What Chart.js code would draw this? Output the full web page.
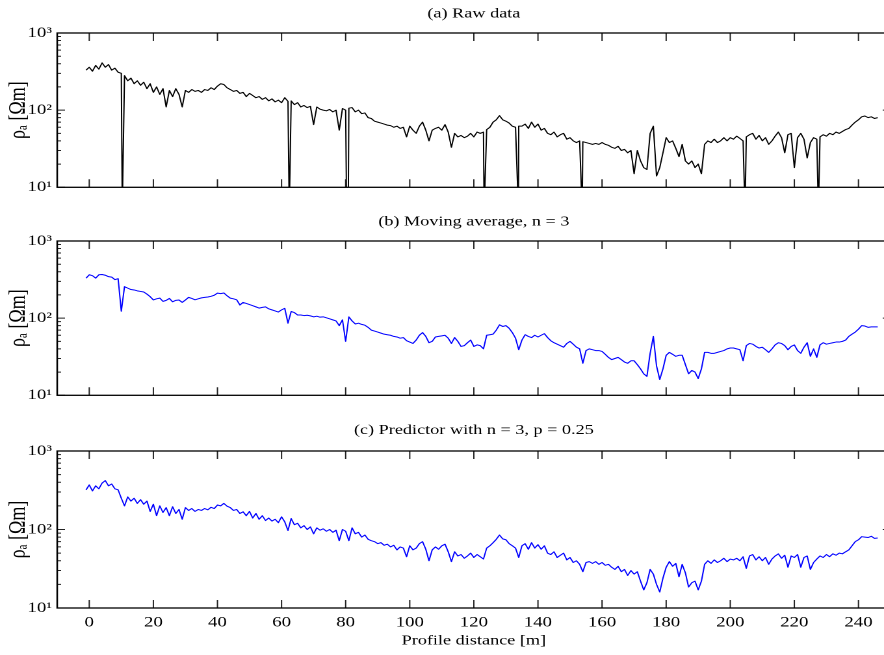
<!DOCTYPE html>
<html>
<head>
<meta charset="utf-8">
<script src="https://cdn.jsdelivr.net/npm/chart.js@4.4.1/dist/chart.umd.min.js"></script>
<style>
  html, body { margin: 0; padding: 0; background: #fff; overflow: hidden; }
  #fig { position: relative; width: 884px; height: 655px; overflow: hidden; background: #fff; }
  #fig canvas { position: absolute; left: 0; transform-origin: 0 0; transform: scaleX(1.3); }
</style>
</head>
<body>
<div id="fig">
  <canvas id="c1" style="top:0px"></canvas>
  <canvas id="c2" style="top:208px"></canvas>
  <canvas id="c3" style="top:418px"></canvas>
</div>
<script>
// ---------------- DATA ----------------
const distanceStart = -1;   // first sample [m], one sample per metre

// (a) raw apparent resistivity [Ohm m] on the 1 m grid
const rawData = [
  330, 360, 320, 380, 340, 410, 360, 390, 330, 350,
  310, 300, 280, 240, 260, 220, 240, 210, 230, 190,
  220, 170, 200, 160, 190, 110, 180, 150, 190, 160,
  110, 180, 170, 185, 175, 180, 170, 185, 180, 195,
  185, 205, 220, 215, 195, 185, 175, 180, 165, 170,
  150, 165, 155, 145, 150, 138, 145, 132, 140, 128,
  135, 125, 145, 130, 132, 118, 125, 110, 115, 108,
  112,  65, 110, 103, 100,  98, 102,  95, 100,  55,
  105, 100, 106, 108,  95, 100,  90,  92,  80,  78,
   72,  70,  68,  66,  64,  63,  60,  62,  58,  60,
   45,  62,  55,  50,  62,  70,  55,  40,  55,  58,
   60,  55,  65,  52,  33,  50,  45,  47,  44,  46,
   50,  45,  52,  50,  52,  56,  60,  70,  75,  85,
   75,  72,  68,  62,  60,  62,  62,  66,  58,  70,
   60,  66,  55,  58,  50,  48,  52,  45,  48,  50,
   42,  44,  40,  38,  40,  39,  38,  37,  36,  37,
   36,  38,  36,  35,  33,  32,  34,  30,  31,  28,
   30,  15,  30,  22,  18,  17,  50,  62,  14,  18,
   28,  44,  38,  40,  32,  25,  36,  22,  20,  22,
   18,  20,  15,  36,  40,  38,  42,  38,  40,  44,
   40,  44,  42,  46,  43,  40,  45,  48,  50,  42,
   47,  40,  44,  36,  40,  46,  52,  44,  28,  48,
   50,  18,  44,  50,  42,  24,  38,  44,  42,  45,
   48,  46,  50,  48,  52,  50,  53,  56,  58,  64,
   70,  75,  82,  84,  80,  82,  78,  80
];
// (a) drop-out samples of the raw data (they fall below the 10 Ohm m axis limit)
const dropoutDistance = [10.3, 62.4, 80.3, 80.8, 123.2, 133.9, 153.8, 204.6, 227.5];
const dropoutValue    = [5, 5, 5, 5, 5, 5, 5, 5, 5];

// (b) moving average, n = 3
const movingAverage = [
  330, 365, 355, 330, 365, 368, 360, 345, 340, 316,
  325, 123, 256, 245, 235, 232, 226, 222, 218, 205,
  190, 172, 178, 182, 165, 170, 180, 163, 170, 172,
  160, 172, 186, 180, 173, 178, 183, 186, 188, 192,
  198, 211, 208, 212, 195, 182, 178, 173, 148, 160,
  155, 150, 145, 140, 135, 138, 140, 132, 128, 124,
  120, 128, 134,  86, 122, 118, 110, 110, 108, 109,
  107, 104, 106, 103, 104, 101,  98,  95,  92,  80,
   95,  50, 104,  92,  84,  86,  83,  81,  76,  70,
   68,  66,  64,  62,  61,  60,  58,  57,  55,  56,
   51,  49,  47,  52,  60,  65,  58,  48,  50,  57,
   58,  59,  60,  55,  47,  56,  50,  43,  44,  48,
   52,  43,  45,  44,  40,  60,  61,  62,  70,  82,
   78,  80,  74,  65,  55,  39,  52,  61,  58,  56,
   60,  57,  60,  63,  56,  51,  48,  46,  44,  42,
   47,  50,  46,  42,  40,  26,  38,  40,  39,  38,
   38,  37,  34,  31,  29,  30,  31,  29,  27,  26,
   28,  28,  25,  22,  19, 17.6, 35, 58,  24,  16,
   22,  33,  36,  34,  32,  33,  33,  25,  19,  21,
   20, 16.5, 22,  36,  36,  35,  35,  36,  37,  38,
   40,  41,  41,  40,  39,  28,  44,  47,  46,  43,
   41,  42,  39,  36,  40,  45,  48,  47,  44,  39,
   43,  45,  38,  35,  42,  48,  32,  40,  31,  45,
   48,  46,  47,  48,  49,  49,  50,  52,  58,  62,
   66,  72,  80,  79,  76,  77,  77,  77
];

// (c) predictor with n = 3, p = 0.25
const predictor = [
  320, 370, 310, 360, 330, 390, 420, 360, 380, 330,
  320, 250, 200, 260, 230, 250, 215, 240, 210, 230,
  170, 210, 150, 200, 165, 190, 150, 195, 160, 180,
  135, 190, 175, 185, 170, 180, 175, 185, 178, 192,
  185, 205, 200, 215, 198, 190, 175, 180, 160, 168,
  150, 170, 140, 160, 135, 150, 130, 140, 128, 135,
  122, 145, 125,  97, 138, 115, 120, 105, 112, 100,
  108,  88, 105,  98, 102,  95, 100,  92,  98,  72,
  100,  95,  72, 105,  88,  92,  80,  85,  75,  72,
   70,  66,  68,  63,  65,  60,  63,  55,  60,  58,
   45,  62,  55,  58,  66,  70,  56,  40,  55,  60,
   56,  62,  65,  52,  39,  52,  46,  48,  43,  46,
   50,  44,  48,  45,  42,  58,  62,  68,  75,  85,
   76,  74,  66,  62,  58,  44,  62,  66,  56,  68,
   58,  64,  56,  62,  50,  48,  52,  44,  47,  50,
   41,  44,  38,  40,  36,  29,  38,  39,  37,  39,
   36,  38,  35,  36,  33,  31,  34,  29,  31,  26,
   30,  27,  29,  22,  17,  21,  31,  27,  20,  16,
   24,  33,  39,  34,  37,  25,  36,  28, 18.5, 21,
   22,  17,  22,  36,  40,  37,  41,  38,  40,  43,
   39,  42,  41,  43,  40,  45,  32,  46,  48,  41,
   45,  40,  44,  36,  42,  46,  49,  43,  47,  33,
   46,  44,  48,  33,  44,  46,  31,  38,  42,  46,
   44,  48,  45,  49,  47,  50,  49,  52,  55,  62,
   70,  74,  81,  80,  79,  82,  77,  78
];

const xTicks = [0, 20, 40, 60, 80, 100, 120, 140, 160, 180, 200, 220, 240];
const yTicks = [10, 100, 1000];
const yTickLabels = ['10\u00B9', '10\u00B2', '10\u00B3'];
const yMinorTicks = [20, 30, 40, 50, 60, 70, 80, 90, 200, 300, 400, 500, 600, 700, 800, 900];
const panelTitles = ['(a) Raw data', '(b) Moving average, n = 3', '(c) Predictor with n = 3, p = 0.25'];
const xTitle = 'Profile distance [m]';
const yTitle = '\u03C1\u2090 [\u03A9m]';

const distance = rawData.map((_, i) => distanceStart + i);

function gridPoints(values) {
  return distance.map((d, i) => ({ x: d, y: values[i] }));
}
const rawPoints = gridPoints(rawData)
  .concat(dropoutDistance.map((d, i) => ({ x: d, y: dropoutValue[i] })))
  .sort((a, b) => a.x - b.x);

// ---------------- DRAWING ----------------
const FONT = "'Liberation Serif', 'Times New Roman', serif";

const frameTicks = {
  id: 'frameTicks',
  afterDatasetsDraw(chart) {
    const { ctx, chartArea: a, scales: { x, y } } = chart;
    ctx.save();
    ctx.strokeStyle = '#222';
    ctx.lineWidth = 1;
    ctx.beginPath();
    xTicks.forEach(v => {
      const px = x.getPixelForValue(v);
      ctx.moveTo(px, a.bottom); ctx.lineTo(px, a.bottom - 8);
      ctx.moveTo(px, a.top); ctx.lineTo(px, a.top + 8);
    });
    yTicks.forEach(v => {
      const py = y.getPixelForValue(v);
      ctx.moveTo(a.left, py); ctx.lineTo(a.left + 6, py);
      ctx.moveTo(a.right, py); ctx.lineTo(a.right - 6, py);
    });
    yMinorTicks.forEach(v => {
      const py = y.getPixelForValue(v);
      ctx.moveTo(a.left, py); ctx.lineTo(a.left + 3, py);
      ctx.moveTo(a.right, py); ctx.lineTo(a.right - 3, py);
    });
    ctx.stroke();
    ctx.strokeStyle = '#000';
    ctx.lineWidth = 1.3;
    ctx.strokeRect(a.left, a.top, a.right - a.left, a.bottom - a.top);
    ctx.restore();
  }
};

function makePanel(id, height, points, color, title, titleTop, showX, xAxisHeight) {
  const canvas = document.getElementById(id);
  canvas.width = 692;
  canvas.height = height;
  return new Chart(canvas, {
    type: 'line',
    data: {
      datasets: [{
        data: points,
        borderColor: color,
        borderWidth: 1,
        pointRadius: 0,
        tension: 0,
        borderJoinStyle: 'round',
        fill: false
      }]
    },
    options: {
      responsive: false,
      animation: false,
      devicePixelRatio: 2,
      layout: { padding: { left: 0, right: 7, top: 0, bottom: 0 } },
      plugins: {
        legend: { display: false },
        tooltip: { enabled: false },
        title: {
          display: true,
          text: title,
          fullSize: false,
          color: '#000',
          font: { family: FONT, size: 14, weight: 'normal' },
          padding: { top: titleTop, bottom: 33 - 16.8 - titleTop }
        }
      },
      scales: {
        x: {
          type: 'linear',
          min: -10,
          max: 250,
          afterBuildTicks: s => { s.ticks = xTicks.map(v => ({ value: v })); },
          afterFit: s => { s.height = xAxisHeight; },
          ticks: {
            display: showX,
            autoSkip: false,
            maxRotation: 0,
            padding: 6,
            color: '#000',
            font: { family: FONT, size: 14.5 }
          },
          grid: { display: false, drawTicks: false },
          border: { display: false },
          title: {
            display: showX,
            text: xTitle,
            color: '#000',
            font: { family: FONT, size: 14 },
            padding: { top: 0, bottom: 5.6 }
          }
        },
        y: {
          type: 'logarithmic',
          min: 10,
          max: 1000,
          afterBuildTicks: s => { s.ticks = yTicks.map(v => ({ value: v, major: true })); },
          afterFit: s => { s.width = 44; },
          ticks: {
            autoSkip: false,
            padding: 4,
            color: '#000',
            font: { family: FONT, size: 14.5 },
            callback: (v, i) => yTickLabels[i]
          },
          grid: { display: false, drawTicks: false },
          border: { display: false },
          title: {
            display: true,
            text: yTitle,
            color: '#000',
            font: { family: FONT, size: 18 },
            padding: { top: 3.5, bottom: 0 }
          }
        }
      }
    },
    plugins: [frameTicks]
  });
}

makePanel('c1', 200, rawPoints, '#000000', panelTitles[0], 5.6, false, 9);
makePanel('c2', 200, gridPoints(movingAverage), '#0000ff', panelTitles[1], 5.6, false, 9);
makePanel('c3', 237, gridPoints(predictor), '#0000ff', panelTitles[2], 4.1, true, 47);
</script>
</body>
</html>
